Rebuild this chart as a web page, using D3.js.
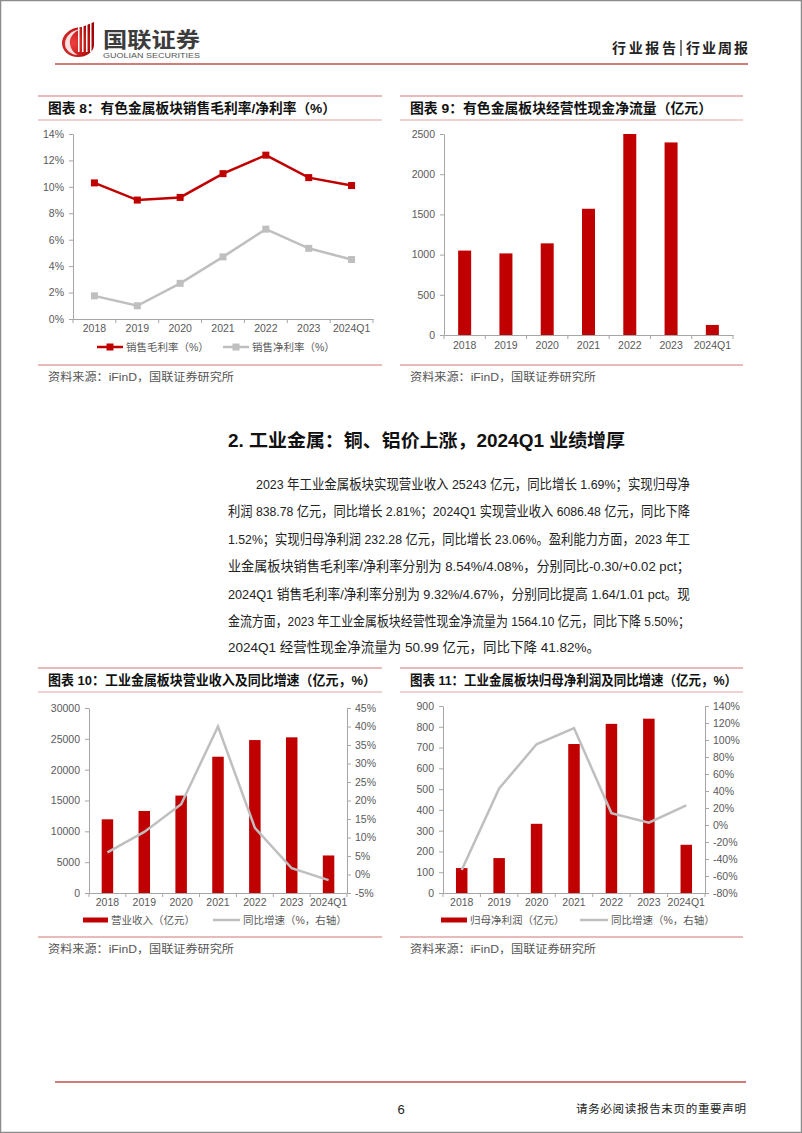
<!DOCTYPE html>
<html><head><meta charset="utf-8">
<script src="https://cdn.jsdelivr.net/npm/d3@7"></script>
<style>
body{margin:0;background:#fff}
svg{display:block}
text{font-family:"Liberation Sans","Noto Sans CJK SC",sans-serif}
</style>
</head><body>
<svg id="c" width="802" height="1133"></svg>
<script>
// ---------- data ----------
const categories = ["2018","2019","2020","2021","2022","2023","2024Q1"];
const grossMargin = [10.3, 9.0, 9.2, 11.0, 12.4, 10.7, 10.1];
const netMargin   = [1.75, 1.0, 2.7, 4.7, 6.8, 5.35, 4.5];
const cashFlow    = [1050, 1015, 1140, 1570, 2500, 2395, 125];
const revenue     = [11950, 13300, 15800, 22100, 24800, 25243, 6086];
const revenueYoY  = [6.0, 11.5, 19.0, 40.0, 12.6, 1.69, -1.52];
const profit      = [120, 168, 333, 717, 814, 839, 232];
const profitYoY   = [-53, 43, 95, 114, 14, 2.81, 23.06];
const ticks8  = [0,2,4,6,8,10,12,14];
const ticks9  = [0,500,1000,1500,2000,2500];
const ticks10L = [0,5000,10000,15000,20000,25000,30000];
const ticks10R = [-5,0,5,10,15,20,25,30,35,40,45];
const ticks11L = [0,100,200,300,400,500,600,700,800,900];
const ticks11R = [-80,-60,-40,-20,0,20,40,60,80,100,120,140];
const bodyLines = [
 "2023 年工业金属板块实现营业收入 25243 亿元，同比增长 1.69%；实现归母净",
 "利润 838.78 亿元，同比增长 2.81%；2024Q1 实现营业收入 6086.48 亿元，同比下降",
 "1.52%；实现归母净利润 232.28 亿元，同比增长 23.06%。盈利能力方面，2023 年工",
 "业金属板块销售毛利率/净利率分别为 8.54%/4.08%，分别同比-0.30/+0.02 pct；",
 "2024Q1 销售毛利率/净利率分别为 9.32%/4.67%，分别同比提高 1.64/1.01 pct。现",
 "金流方面，2023 年工业金属板块经营性现金净流量为 1564.10 亿元，同比下降 5.50%；",
 "2024Q1 经营性现金净流量为 50.99 亿元，同比下降 41.82%。"
];

// ---------- style ----------
const RED = "#c00000", GRAY = "#bfbfbf", PINK = "#e0a3a3", AX = "#a6a6a6", LBL = "#595959";
const svg = d3.select("#c");

// page frame
svg.append("rect").attr("x",0.5).attr("y",0.5).attr("width",801).attr("height",1132)
  .attr("fill","none").attr("stroke","#8c8c8c").attr("stroke-width",1.5);

// ---------- header ----------
const logo = svg.append("g");
const grad = svg.append("defs").append("radialGradient").attr("id","lg").attr("cx","35%").attr("cy","60%").attr("r","70%");
grad.append("stop").attr("offset","0%").attr("stop-color","#f04040");
grad.append("stop").attr("offset","100%").attr("stop-color","#a00000");
logo.append("path").attr("d","M82,27 C69,27 62,36 62,43 C62,51 69,57 78,57 C87,57 93,52 94,46 L94,22 C90,24 86,25 82,27 Z").attr("fill","url(#lg)");
logo.append("path").attr("d","M81,29 C73,32 69,38 70,44 C71,50 74,53 78,55 C71,55 65,50 65,44 C65,36 72,30 81,29 Z").attr("fill","#fff").attr("opacity",0.85);
[78,82,86,90].forEach((x,i)=>logo.append("rect").attr("x",x).attr("y",26-i*1.5).attr("width",1.5).attr("height",26+i*1.5).attr("fill","#fff"));
svg.append("text").attr("x",103).attr("y",47).attr("font-size",21).attr("font-weight",700)
  .attr("fill","#3c3c3c").attr("font-family",'"Noto Sans CJK SC",sans-serif')
  .attr("textLength",97).attr("lengthAdjust","spacingAndGlyphs").text("国联证券");
svg.append("text").attr("x",103).attr("y",58).attr("font-size",7).attr("fill","#555")
  .attr("textLength",97).attr("lengthAdjust","spacingAndGlyphs").text("GUOLIAN SECURITIES");
svg.append("text").attr("x",612).attr("y",53).attr("font-size",14).attr("font-weight",700).attr("fill","#222")
  .attr("font-family",'"Noto Sans CJK SC",sans-serif').attr("textLength",64).text("行业报告");
svg.append("line").attr("x1",681).attr("x2",681).attr("y1",40).attr("y2",56).attr("stroke","#222").attr("stroke-width",1.2);
svg.append("text").attr("x",686).attr("y",53).attr("font-size",14).attr("font-weight",700).attr("fill","#222")
  .attr("font-family",'"Noto Sans CJK SC",sans-serif').attr("textLength",62).text("行业周报");
svg.append("line").attr("x1",55).attr("x2",748).attr("y1",64).attr("y2",64).attr("stroke","#c0504d").attr("stroke-width",1.5);

// ---------- footer ----------
svg.append("line").attr("x1",55).attr("x2",746).attr("y1",1082).attr("y2",1082).attr("stroke","#c0504d").attr("stroke-width",1.5);
svg.append("text").attr("x",401).attr("y",1114).attr("text-anchor","middle").attr("font-size",13).attr("fill","#222").text("6");
svg.append("text").attr("x",576).attr("y",1113).attr("font-size",11.5).attr("fill","#222")
  .attr("font-family",'"Noto Sans CJK SC",sans-serif').attr("textLength",170).text("请务必阅读报告末页的重要声明");

// ---------- section text ----------
svg.append("text").attr("x",228).attr("y",447).attr("font-size",18).attr("font-weight",700).attr("fill","#111")
  .attr("textLength",397).attr("lengthAdjust","spacingAndGlyphs").text("2. 工业金属：铜、铝价上涨，2024Q1 业绩增厚");
const lineY = [489, 516, 544, 571, 599, 626, 652];
bodyLines.forEach((t,i)=>{
  const x0 = i===0 ? 256 : 228;
  const w = i===bodyLines.length-1 ? 372 : 690 - x0;
  svg.append("text").attr("x",x0).attr("y",lineY[i]).attr("font-size",13.5).attr("fill","#222")
    .attr("textLength",w).attr("lengthAdjust","spacingAndGlyphs").text(t);
});

// ---------- helpers ----------
function titleBox(x0,x1,yTop,yBot,tx,title,tw,srcLineY,srcY){
  svg.append("line").attr("x1",x0).attr("x2",x1).attr("y1",yTop).attr("y2",yTop).attr("stroke",PINK).attr("stroke-width",1.5);
  svg.append("line").attr("x1",x0).attr("x2",x1).attr("y1",yBot).attr("y2",yBot).attr("stroke",PINK).attr("stroke-width",1);
  svg.append("text").attr("x",tx).attr("y",(yTop+yBot)/2+5).attr("font-size",13.5).attr("font-weight",700).attr("fill","#111")
    .attr("textLength",tw).attr("lengthAdjust","spacingAndGlyphs").text(title);
  svg.append("line").attr("x1",x0).attr("x2",x1).attr("y1",srcLineY).attr("y2",srcLineY).attr("stroke",PINK).attr("stroke-width",1.5);
  svg.append("text").attr("x",tx).attr("y",srcY).attr("font-size",11).attr("fill","#555")
    .attr("textLength",186).attr("lengthAdjust","spacingAndGlyphs").text("资料来源：iFinD，国联证券研究所");
}
function xAxis(x, y0, labelY){
  const g = svg.append("g").attr("transform",`translate(0,${y0})`);
  g.call(d3.axisBottom(x).tickSize(0).tickPadding(labelY - y0 - 9));
  g.select(".domain").attr("stroke",AX);
  g.selectAll("text").attr("fill",LBL).attr("font-size",10.5);
  const edges = categories.map(c=>x(c)).concat([x.range()[1]]);
  g.selectAll("line.edge").data(edges).join("line").attr("class","edge")
    .attr("x1",d=>d).attr("x2",d=>d).attr("y1",0).attr("y2",4).attr("stroke",AX);
}
function yAxis(y, x0, tv, fmt, right){
  const ax = right ? d3.axisRight(y) : d3.axisLeft(y);
  const g = svg.append("g").attr("transform",`translate(${x0},0)`);
  g.call(ax.tickValues(tv).tickFormat(fmt).tickSize(4).tickSizeOuter(0).tickPadding(right?4:5));
  g.select(".domain").attr("stroke",AX);
  g.selectAll(".tick line").attr("stroke",AX);
  g.selectAll("text").attr("fill",LBL).attr("font-size",10.5);
}
const pct = d => (d<0?"-":"") + Math.abs(d) + "%";

// ---------- chart 8 ----------
titleBox(38,382,96,120,48,"图表 8：有色金属板块销售毛利率/净利率（%）",288,365,381);
{
  const x = d3.scaleBand().domain(categories).range([73,373]).padding(0);
  const y = d3.scaleLinear().domain([0,14]).range([319,134]);
  yAxis(y,73,ticks8,d=>d+"%",false);
  xAxis(x,319,334);
  const cx = c => x(c)+x.bandwidth()/2;
  [[netMargin,GRAY],[grossMargin,RED]].forEach(([arr,col])=>{
    svg.append("path").datum(arr).attr("fill","none").attr("stroke",col).attr("stroke-width",2.5)
      .attr("d",d3.line().x((d,i)=>cx(categories[i])).y(d=>y(d)));
    svg.selectAll(null).data(arr).join("rect").attr("x",(d,i)=>cx(categories[i])-3.5).attr("y",d=>y(d)-3.5)
      .attr("width",7).attr("height",7).attr("fill",col);
  });
  const leg = [[97,"销售毛利率（%）",RED],[223,"销售净利率（%）",GRAY]];
  leg.forEach(([lx,t,col])=>{
    svg.append("line").attr("x1",lx).attr("x2",lx+26).attr("y1",347).attr("y2",347).attr("stroke",col).attr("stroke-width",2.5);
    svg.append("rect").attr("x",lx+9.5).attr("y",343.5).attr("width",7).attr("height",7).attr("fill",col);
    svg.append("text").attr("x",lx+29).attr("y",351).attr("font-size",10.5).attr("fill",LBL).text(t);
  });
}

// ---------- chart 9 ----------
titleBox(400,743,96,120,410,"图表 9：有色金属板块经营性现金净流量（亿元）",302,365,381);
{
  const x = d3.scaleBand().domain(categories).range([444,733]).padding(0);
  const y = d3.scaleLinear().domain([0,2500]).range([335,134]);
  yAxis(y,444,ticks9,d=>d,false);
  xAxis(x,335,351);
  const bw = 13;
  svg.selectAll(null).data(cashFlow).join("rect")
    .attr("x",(d,i)=>x(categories[i])+x.bandwidth()/2-bw/2).attr("width",bw)
    .attr("y",d=>y(d)).attr("height",d=>y(0)-y(d)).attr("fill",RED);
}

// ---------- chart 10 ----------
titleBox(38,382,668,692,48,"图表 10：工业金属板块营业收入及同比增速（亿元，%）",328,937,953);
{
  const x = d3.scaleBand().domain(categories).range([89,347]).padding(0);
  const yL = d3.scaleLinear().domain([0,30000]).range([893,708]);
  const yR = d3.scaleLinear().domain([-5,45]).range([893,708]);
  yAxis(yL,89,ticks10L,d=>d,false);
  yAxis(yR,347,ticks10R,pct,true);
  xAxis(x,893,908);
  const bw = 11.5;
  const cx = c => x(c)+x.bandwidth()/2;
  svg.selectAll(null).data(revenue).join("rect")
    .attr("x",(d,i)=>cx(categories[i])-bw/2).attr("width",bw)
    .attr("y",d=>yL(d)).attr("height",d=>yL(0)-yL(d)).attr("fill",RED);
  svg.append("path").datum(revenueYoY).attr("fill","none").attr("stroke",GRAY).attr("stroke-width",2.5)
    .attr("d",d3.line().x((d,i)=>cx(categories[i])).y(d=>yR(d)));
  svg.append("rect").attr("x",83).attr("y",917.5).attr("width",25).attr("height",5).attr("fill",RED);
  svg.append("text").attr("x",111).attr("y",924).attr("font-size",10.5).attr("fill",LBL).text("营业收入（亿元）");
  svg.append("line").attr("x1",213).attr("x2",240).attr("y1",920).attr("y2",920).attr("stroke",GRAY).attr("stroke-width",2.5);
  svg.append("text").attr("x",243).attr("y",924).attr("font-size",10.5).attr("fill",LBL).text("同比增速（%，右轴）");
}

// ---------- chart 11 ----------
titleBox(400,743,668,692,410,"图表 11：工业金属板块归母净利润及同比增速（亿元，%）",327,937,953);
{
  const x = d3.scaleBand().domain(categories).range([443,705]).padding(0);
  const yL = d3.scaleLinear().domain([0,900]).range([893,706]);
  const yR = d3.scaleLinear().domain([-80,140]).range([893,706]);
  yAxis(yL,443,ticks11L,d=>d,false);
  yAxis(yR,705,ticks11R,pct,true);
  xAxis(x,893,908);
  const bw = 11.5;
  const cx = c => x(c)+x.bandwidth()/2;
  svg.selectAll(null).data(profit).join("rect")
    .attr("x",(d,i)=>cx(categories[i])-bw/2).attr("width",bw)
    .attr("y",d=>yL(d)).attr("height",d=>yL(0)-yL(d)).attr("fill",RED);
  svg.append("path").datum(profitYoY).attr("fill","none").attr("stroke",GRAY).attr("stroke-width",2.5)
    .attr("d",d3.line().x((d,i)=>cx(categories[i])).y(d=>yR(d)));
  svg.append("rect").attr("x",441).attr("y",917.5).attr("width",26).attr("height",5).attr("fill",RED);
  svg.append("text").attr("x",470).attr("y",924).attr("font-size",10.5).attr("fill",LBL).text("归母净利润（亿元）");
  svg.append("line").attr("x1",580).attr("x2",608).attr("y1",920).attr("y2",920).attr("stroke",GRAY).attr("stroke-width",2.5);
  svg.append("text").attr("x",611).attr("y",924).attr("font-size",10.5).attr("fill",LBL).text("同比增速（%，右轴）");
}
</script>
</body></html>
